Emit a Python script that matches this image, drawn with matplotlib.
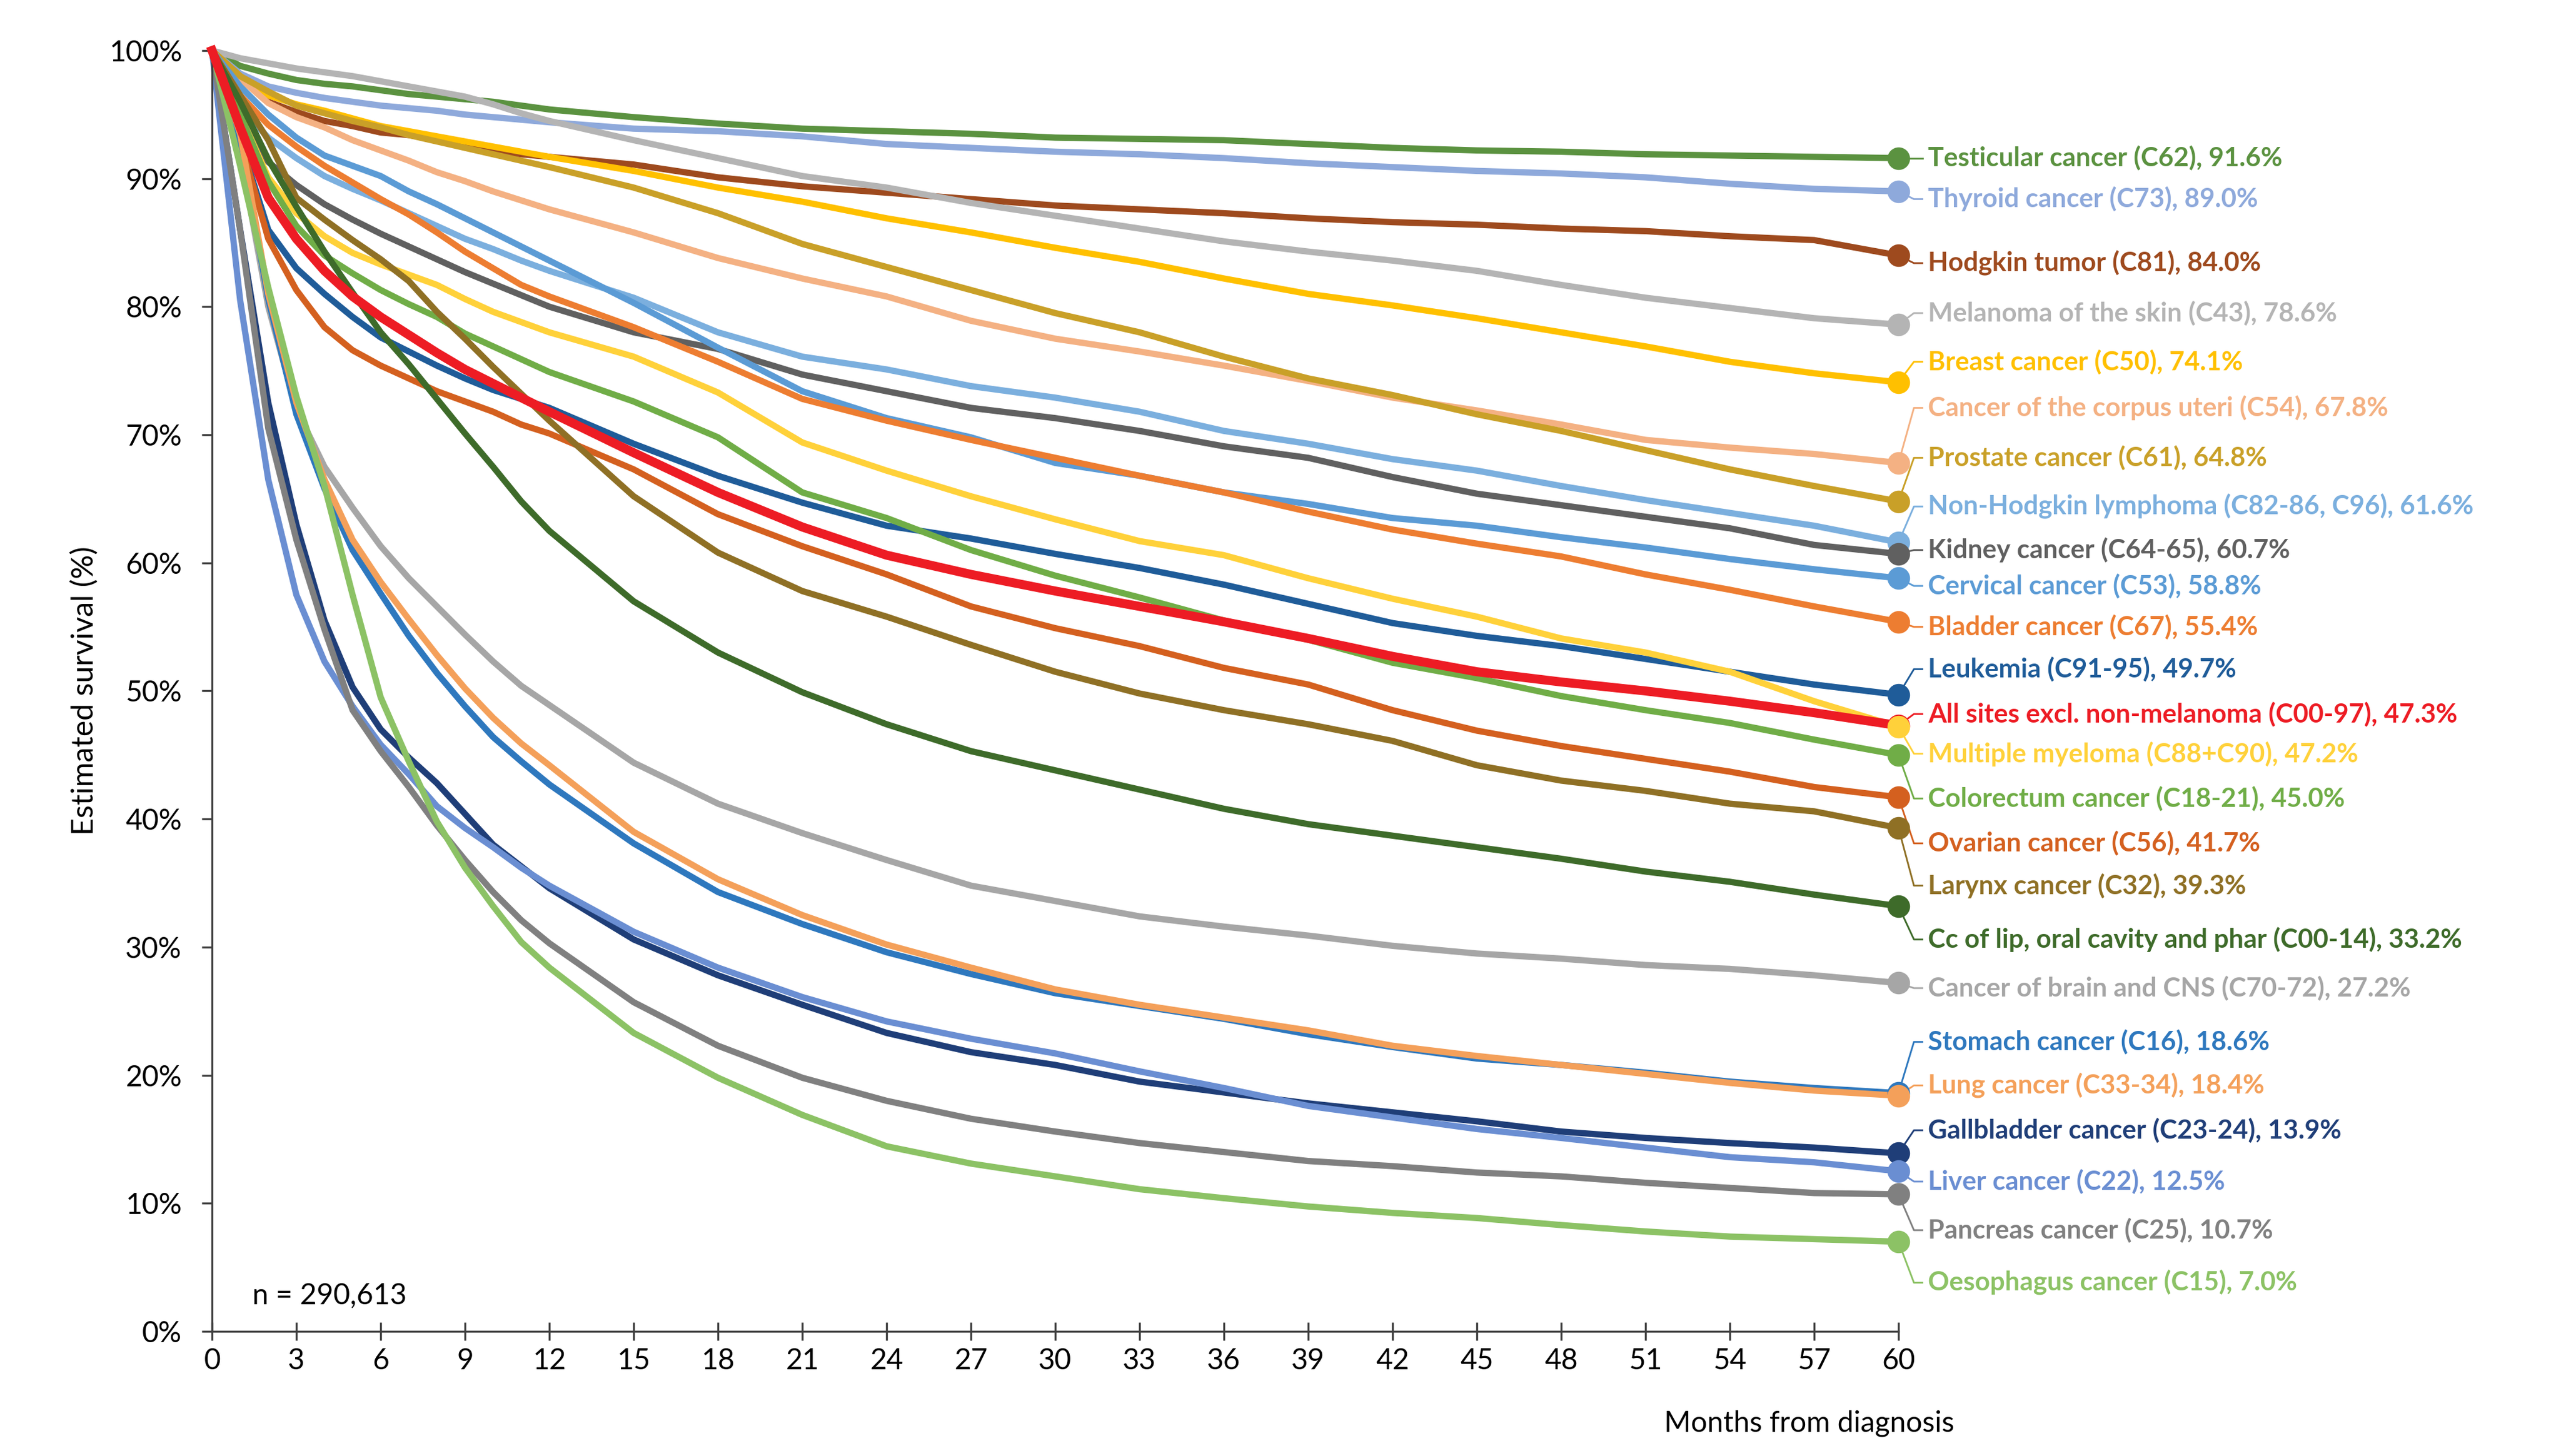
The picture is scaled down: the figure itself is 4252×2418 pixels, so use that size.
import matplotlib
matplotlib.use('Agg')
import matplotlib.pyplot as plt
import matplotlib.ticker as ticker

plt.rcParams.update({'font.family': ['Lato', 'DejaVu Sans'], 'font.size': 11})

months = [0, 1, 2, 3, 4, 5, 6, 7, 8, 9, 10, 11, 12, 15, 18, 21, 24, 27, 30,
          33, 36, 39, 42, 45, 48, 51, 54, 57, 60]

testicular = [100, 98.8, 98.2, 97.7, 97.4, 97.2, 96.9, 96.6, 96.4, 96.2, 96.0, 95.7, 95.4, 94.8, 94.3,
              93.9, 93.7, 93.5, 93.2, 93.1, 93.0, 92.7, 92.4, 92.2, 92.1, 91.9, 91.8, 91.7, 91.6]
thyroid = [100, 98.2, 97.2, 96.7, 96.3, 96.0, 95.7, 95.5, 95.3, 95.0, 94.8, 94.6, 94.4, 93.9, 93.7,
           93.3, 92.7, 92.4, 92.1, 91.9, 91.6, 91.2, 90.9, 90.6, 90.4, 90.1, 89.6, 89.2, 89.0]
hodgkin = [100, 98.0, 96.0, 95.2, 94.5, 94.1, 93.6, 93.4, 93.1, 92.6, 92.2, 91.9, 91.7, 91.1, 90.1,
           89.4, 88.9, 88.4, 87.9, 87.6, 87.3, 86.9, 86.6, 86.4, 86.1, 85.9, 85.5, 85.2, 84.0]
melanoma = [100, 99.4, 99.0, 98.6, 98.3, 98.0, 97.6, 97.2, 96.8, 96.4, 95.8, 95.1, 94.5, 93.0, 91.6,
            90.2, 89.3, 88.1, 87.1, 86.1, 85.1, 84.3, 83.6, 82.8, 81.7, 80.7, 79.9, 79.1, 78.6]
breast = [100, 98.0, 96.5, 95.8, 95.3, 94.7, 94.1, 93.7, 93.3, 92.9, 92.5, 92.1, 91.7, 90.6, 89.3,
          88.2, 86.9, 85.8, 84.6, 83.5, 82.2, 81.0, 80.1, 79.1, 78.0, 76.9, 75.7, 74.8, 74.1]
corpus_uteri = [100, 97.8, 95.9, 94.8, 94.0, 93.0, 92.2, 91.4, 90.5, 89.8, 89.0, 88.3, 87.6, 85.8, 83.8,
                82.2, 80.8, 78.9, 77.5, 76.5, 75.4, 74.2, 72.9, 71.9, 70.8, 69.6, 69.0, 68.5, 67.8]
prostate = [100, 98.0, 96.8, 95.7, 95.1, 94.5, 94.0, 93.4, 92.9, 92.4, 91.9, 91.4, 90.9, 89.3, 87.3,
            84.9, 83.1, 81.3, 79.5, 78.0, 76.1, 74.4, 73.1, 71.6, 70.3, 68.8, 67.3, 66.0, 64.8]
nhl = [100, 95.5, 93.2, 91.6, 90.2, 89.2, 88.3, 87.3, 86.3, 85.3, 84.5, 83.6, 82.8, 80.7, 78.0,
       76.1, 75.1, 73.8, 72.9, 71.8, 70.3, 69.3, 68.1, 67.2, 66.0, 64.9, 63.9, 62.9, 61.6]
kidney = [100, 94.5, 91.3, 89.5, 88.0, 86.8, 85.7, 84.7, 83.7, 82.7, 81.8, 80.9, 80.0, 78.0, 76.7,
          74.7, 73.4, 72.1, 71.3, 70.3, 69.1, 68.2, 66.7, 65.4, 64.5, 63.6, 62.7, 61.4, 60.7]
cervical = [100, 97.2, 95.0, 93.2, 91.8, 91.0, 90.2, 89.0, 88.0, 86.9, 85.8, 84.7, 83.6, 80.3, 76.8,
            73.4, 71.3, 69.8, 67.8, 66.8, 65.5, 64.6, 63.5, 62.9, 62.0, 61.2, 60.3, 59.5, 58.8]
bladder = [100, 96.5, 94.2, 92.5, 91.0, 89.7, 88.4, 87.2, 85.8, 84.3, 83.0, 81.7, 80.8, 78.4, 75.7,
           72.8, 71.1, 69.6, 68.2, 66.8, 65.5, 64.0, 62.6, 61.5, 60.5, 59.1, 57.9, 56.6, 55.4]
leukemia = [100, 93.0, 86.0, 83.0, 81.0, 79.2, 77.6, 76.5, 75.4, 74.4, 73.5, 72.8, 72.1, 69.3, 66.8,
            64.7, 62.9, 61.9, 60.7, 59.6, 58.3, 56.8, 55.3, 54.3, 53.5, 52.5, 51.5, 50.5, 49.7]
all_sites = [100, 94.0, 88.5, 85.3, 82.8, 80.8, 79.2, 77.8, 76.4, 75.1, 74.0, 72.9, 71.8, 68.6, 65.5,
             62.8, 60.6, 59.1, 57.8, 56.6, 55.4, 54.1, 52.7, 51.5, 50.7, 50.0, 49.2, 48.3, 47.3]
myeloma = [100, 95.0, 90.1, 87.3, 85.5, 84.2, 83.3, 82.5, 81.7, 80.6, 79.6, 78.8, 78.0, 76.1, 73.3,
           69.4, 67.2, 65.2, 63.4, 61.7, 60.6, 58.8, 57.2, 55.8, 54.1, 53.0, 51.5, 49.2, 47.2]
colorectum = [100, 95.0, 89.8, 86.3, 84.0, 82.6, 81.3, 80.2, 79.2, 77.9, 76.9, 75.9, 74.9, 72.6, 69.8,
              65.5, 63.5, 61.0, 59.0, 57.3, 55.5, 54.0, 52.2, 51.0, 49.6, 48.5, 47.5, 46.2, 45.0]
ovarian = [100, 93.0, 85.3, 81.3, 78.4, 76.6, 75.4, 74.4, 73.4, 72.6, 71.8, 70.8, 70.1, 67.3, 63.8,
           61.3, 59.1, 56.6, 54.9, 53.5, 51.8, 50.5, 48.5, 46.9, 45.7, 44.7, 43.7, 42.5, 41.7]
larynx = [100, 96.5, 93.0, 88.5, 86.8, 85.2, 83.7, 82.0, 79.6, 77.5, 75.3, 73.2, 71.1, 65.2, 60.8,
          57.8, 55.8, 53.6, 51.5, 49.8, 48.5, 47.4, 46.1, 44.2, 43.0, 42.2, 41.2, 40.6, 39.3]
cc_lip = [100, 96.0, 91.5, 87.8, 84.3, 81.1, 78.0, 75.5, 72.8, 70.1, 67.5, 64.8, 62.5, 57.0, 53.0,
          49.9, 47.4, 45.3, 43.8, 42.3, 40.8, 39.6, 38.7, 37.8, 36.9, 35.9, 35.1, 34.1, 33.2]
brain = [100, 92.0, 80.0, 72.0, 67.5, 64.3, 61.3, 58.8, 56.6, 54.4, 52.3, 50.4, 48.9, 44.4, 41.2,
         38.9, 36.8, 34.8, 33.6, 32.4, 31.6, 30.9, 30.1, 29.5, 29.1, 28.6, 28.3, 27.8, 27.2]
stomach = [100, 93.0, 80.6, 71.6, 65.8, 61.0, 57.6, 54.3, 51.4, 48.8, 46.4, 44.5, 42.7, 38.1, 34.3,
           31.8, 29.6, 27.9, 26.4, 25.4, 24.4, 23.2, 22.2, 21.3, 20.8, 20.2, 19.5, 19.0, 18.6]
lung = [100, 93.5, 81.0, 72.5, 66.5, 61.8, 58.5, 55.6, 52.8, 50.2, 47.9, 45.9, 44.2, 39.0, 35.3,
        32.5, 30.2, 28.4, 26.7, 25.5, 24.5, 23.5, 22.3, 21.5, 20.8, 20.1, 19.4, 18.8, 18.4]
gallbladder = [100, 86.0, 72.5, 63.0, 55.5, 50.3, 47.0, 44.8, 42.8, 40.4, 38.0, 36.3, 34.6, 30.6, 27.8,
               25.5, 23.3, 21.8, 20.8, 19.5, 18.65, 17.8, 17.1, 16.4, 15.6, 15.1, 14.7, 14.35, 13.9]
liver = [100, 80.5, 66.5, 57.5, 52.3, 48.8, 45.8, 43.5, 41.0, 39.3, 37.8, 36.2, 34.8, 31.2, 28.4,
         26.1, 24.2, 22.85, 21.7, 20.3, 19.0, 17.6, 16.7, 15.8, 15.1, 14.35, 13.6, 13.2, 12.5]
pancreas = [100, 86.0, 70.5, 61.8, 54.8, 48.5, 45.3, 42.5, 39.5, 36.8, 34.3, 32.1, 30.3, 25.7, 22.3,
            19.8, 18.0, 16.6, 15.6, 14.7, 14.0, 13.3, 12.9, 12.4, 12.1, 11.6, 11.2, 10.8, 10.7]
oesophagus = [100, 91.0, 81.5, 73.0, 66.0, 57.5, 49.5, 44.5, 39.8, 36.2, 33.2, 30.4, 28.4, 23.3, 19.8,
              16.9, 14.45, 13.1, 12.1, 11.1, 10.4, 9.75, 9.25, 8.85, 8.3, 7.8, 7.4, 7.2, 7.0]

names = ['Testicular cancer (C62)', 'Thyroid cancer (C73)', 'Hodgkin tumor (C81)',
         'Melanoma of the skin (C43)', 'Breast cancer (C50)', 'Cancer of the corpus uteri (C54)',
         'Prostate cancer (C61)', 'Non-Hodgkin lymphoma (C82-86, C96)', 'Kidney cancer (C64-65)',
         'Cervical cancer (C53)', 'Bladder cancer (C67)', 'Leukemia (C91-95)',
         'All sites excl. non-melanoma (C00-97)', 'Multiple myeloma (C88+C90)',
         'Colorectum cancer (C18-21)', 'Ovarian cancer (C56)', 'Larynx cancer (C32)',
         'Cc of lip, oral cavity and phar (C00-14)', 'Cancer of brain and CNS (C70-72)',
         'Stomach cancer (C16)', 'Lung cancer (C33-34)', 'Gallbladder cancer (C23-24)',
         'Liver cancer (C22)', 'Pancreas cancer (C25)', 'Oesophagus cancer (C15)']
series = [testicular, thyroid, hodgkin, melanoma, breast, corpus_uteri, prostate, nhl, kidney,
          cervical, bladder, leukemia, all_sites, myeloma, colorectum, ovarian, larynx, cc_lip,
          brain, stomach, lung, gallbladder, liver, pancreas, oesophagus]

colors = ['#5B9240', '#8EA9DB', '#9E4A1E', '#B4B4B4', '#FFC000', '#F4B183', '#C9A028', '#7BAFDE',
          '#606060', '#5B9BD5', '#ED7D31', '#1F5C99', '#ED1C24', '#FFD13A', '#70AD47', '#D4601F',
          '#8F7025', '#3E6B2A', '#A6A6A6', '#2E78BE', '#F4A05A', '#1F3E78', '#6A8ED2', '#808080',
          '#8CC265']

# vertical position of each end label (layout, in axis % units)
label_y = [91.6, 88.4, 83.4, 79.5, 75.7, 72.1, 68.2, 64.4, 61.0, 58.2, 55.0, 51.7, 48.2, 45.1,
           41.6, 38.1, 34.8, 30.6, 26.8, 22.6, 19.2, 15.7, 11.7, 7.9, 3.8]

fig = plt.figure(figsize=(4252 / 300, 2418 / 300), dpi=300)
ax = fig.add_axes([0.0828, 0.0856, 0.6585, 0.8797])

for vals, c, name, ly in zip(series, colors, names, label_y):
    main = name.startswith('All sites')
    ax.plot(months, vals, color=c, lw=3.6 if main else 2.5, solid_joinstyle='round',
            clip_on=False, zorder=3 if main else 2)
    ax.plot([months[-1]], [vals[-1]], 'o', color=c, ms=8, clip_on=False, zorder=4)
    # leader line from end point to label
    ax.plot([60, 60.55, 60.85], [vals[-1], ly, ly], color=c, lw=0.7, clip_on=False, zorder=3)
    ax.text(61.05, ly, f'{name}, {vals[-1]:.1f}%', color=c, fontsize=10.5, fontweight='bold',
            va='center', ha='left', clip_on=False)

ax.set_xlim(0, 60)
ax.set_ylim(0, 100)
ax.set_xticks(range(0, 61, 3))
ax.set_yticks(range(0, 101, 10))
ax.yaxis.set_major_formatter(ticker.FuncFormatter(lambda v, _: f'{int(v)}%'))
for s in ['top', 'right']:
    ax.spines[s].set_visible(False)
for s in ['left', 'bottom']:
    ax.spines[s].set_linewidth(0.8)
    ax.spines[s].set_color('#404040')
ax.tick_params(axis='y', direction='out', length=4, width=0.8, color='#404040',
               labelsize=11.5, pad=8)
ax.tick_params(axis='x', direction='inout', length=7, width=0.8, color='#404040',
               labelsize=11.5, pad=3)

ax.text(1.44, 2.8, 'n = 290,613', fontsize=11.5, va='center', ha='left')
fig.text(140 / 4252, 0.5257, 'Estimated survival (%)', rotation=90, fontsize=12,
         va='center', ha='center')
fig.text(3245 / 4252, 1 - 2364 / 2418, 'Months from diagnosis', fontsize=11.5,
         va='center', ha='right')

fig.savefig('out.png', dpi=300)
plt.close(fig)
